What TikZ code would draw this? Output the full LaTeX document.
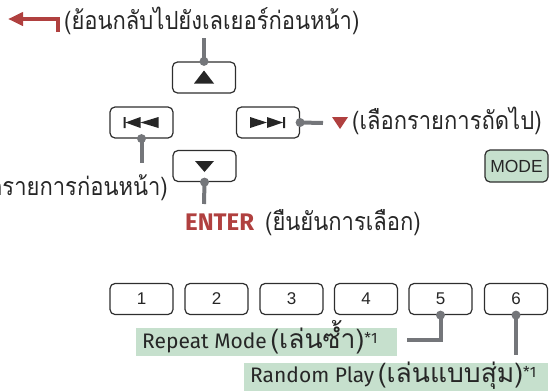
\documentclass[tikz,border=0pt]{standalone}
\usepackage{fontspec}
\setmainfont{Liberation Sans}
\newfontfamily\thai[Script=Thai,FakeStretch=0.88]{Loma}
\newfontfamily\thaiL[Script=Thai]{Loma}
\newfontfamily\hum{Fira Sans}
\usetikzlibrary{arrows.meta}
\definecolor{kred}{HTML}{B0403F}
\definecolor{kgray}{HTML}{74767A}
\definecolor{kgreen}{HTML}{C6E0CD}
\definecolor{kline}{HTML}{2E2E2E}
\newcommand{\starone}{\raisebox{5pt}{\fontsize{15}{15}\selectfont *1}}
\begin{document}
\begin{tikzpicture}[x=1pt,y=-1pt,
  btn/.style={draw=kline, line width=1.2pt, rounded corners=5pt, minimum width=63pt, minimum height=31pt, inner sep=0pt, font=\fontsize{17}{17}\selectfont, text=black!85},
  conn/.style={draw=kgray, line width=4pt},
  dotc/.style={fill=kgray},
  thaitxt/.style={font=\thai\fontsize{25}{25}\selectfont, inner sep=0pt, text=black!85},
  lblbox/.style={fill=kgreen, inner sep=0pt, anchor=north west},
  lbltxt/.style={inner sep=0pt, anchor=base west, font=\hum\fontsize{21}{21}\selectfont, text=black!85}
]
\useasboundingbox (0,0) rectangle (552,391);
\clip (0,0) rectangle (552,391);

% buttons
\node[btn] (up) at (204,77.5) {};
\node[btn] (prev) at (141.5,122.5) {};
\node[btn] (next) at (268,122.5) {};
\node[btn] (down) at (204.5,166) {};
\node[btn, fill=kgreen, minimum height=32pt, font=\fontsize{17.5}{17.5}\selectfont] (mode) at (516.5,166) {MODE};
\foreach \i/\x in {1/141.5,2/216.5,3/291.5,4/366,5/440.5,6/516}
  \node[btn] (b\i) at (\x,299) {\i};

% symbols
\fill[black!85, shift={(up.center)}] (-10,6) -- (10,6) -- (0,-7) -- cycle;
\fill[black!85, shift={(down.center)}] (-9.5,-5) -- (9.5,-5) -- (0,6) -- cycle;
\fill[black!85, shift={(prev.center)}] (-18,-5.5) rectangle (-16,5.5)
  (-16,0) -- (-1,-5.5) -- (-1,5.5) -- cycle
  (-1,0) -- (17,-5.5) -- (17,5.5) -- cycle;
\fill[black!85, shift={(next.center)}] (-18,-5.5) -- (-1,0) -- (-18,5.5) -- cycle
  (-1,-5.5) -- (15,0) -- (-1,5.5) -- cycle
  (15,-5.5) rectangle (17,5.5);

% top: back
\coordinate (backS) at (58,32);
\coordinate (backE) at (8,19);
\draw[kred, line width=4.5pt, -{Triangle[length=15pt,width=13pt]}] (backS) |- (backE);
\node[thaitxt, anchor=base west] (backT) at (64,29) {(ย้อนกลับไปยังเลเยอร์ก่อนหน้า)};
\coordinate (upE) at (204,38);
\draw[conn] (up.north) -- (upE);
\fill[dotc] (up.north) circle (4.5);

% next
\coordinate (nextE) at (323,123);
\draw[conn] (next.east) -- (nextE);
\fill[dotc] (next.east) circle (4.5);
\fill[kred] (332,117) -- (348,117) -- (340,129) -- cycle;
\node[thaitxt, anchor=base west] (nextT) at (352,129) {(เลือกรายการถัดไป)};

% prev
\coordinate (prevE) at (141.5,163);
\draw[conn] (prev.south) -- (prevE);
\fill[dotc] (prev.south) circle (4.5);
\node[thaitxt, anchor=base east] (prevT) at (168,195) {(เลือกรายการก่อนหน้า)};

% down / enter
\coordinate (downE) at (204,204);
\draw[conn] (down.south) -- (downE);
\fill[dotc] (down.south) circle (4.5);
\node[inner sep=0pt, anchor=base west, font=\hum\bfseries\fontsize{24}{24}\selectfont, text=kred] (enter) at (185,230) {ENTER};
\node[thaitxt, anchor=base west] (enterT) at (265,230) {(ยืนยันการเลือก)};

% number 5 / 6
\coordinate (b5E) at (407,340);
\draw[conn] (b5.south) |- (b5E);
\fill[dotc] (b5.south) circle (4.5);
\coordinate (b6E) at (516,355);
\draw[conn] (b6.south) -- (b6E);
\fill[dotc] (b6.south) circle (4.5);

\node[lblbox, minimum width=261pt, minimum height=28pt] (repbox) at (136,328) {};
\node[lbltxt] (rep) at (142,348) {Repeat Mode\,{\thaiL\fontsize{26.5}{26.5}\selectfont(เล่นซ้ำ)}\starone};
\node[lblbox, minimum width=304pt, minimum height=30pt] (rndbox) at (244,363) {};
\node[lbltxt] (rnd) at (250,382) {Random Play\,{\thaiL\fontsize{26.5}{26.5}\selectfont(เล่นแบบสุ่ม)}\starone};
\end{tikzpicture}
\end{document}
